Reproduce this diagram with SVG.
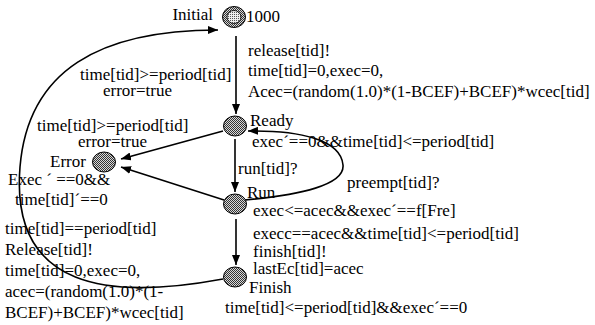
<svg xmlns="http://www.w3.org/2000/svg" width="595" height="325" viewBox="0 0 595 325">
  <defs>
    <style>
      text { font-family: "Liberation Serif", "Times New Roman", serif; font-size: 17px; fill: #000; }
      .edge { fill: none; stroke: #000; stroke-width: 1.6; }
      .loc { fill: url(#dots); stroke: #000; stroke-width: 1; }
    </style>
    <pattern id="dots" width="2" height="2" patternUnits="userSpaceOnUse">
      <rect width="2" height="2" fill="#d8d8d8"/>
      <rect width="1" height="1" fill="#333"/>
      <rect x="1" y="1" width="1" height="1" fill="#333"/>
    </pattern>
    <pattern id="fine" width="2" height="2" patternUnits="userSpaceOnUse">
      <rect width="2" height="2" fill="#eee"/>
      <rect width="1" height="1" fill="#555"/>
    </pattern>
    <marker id="arrow" viewBox="0 0 10 8" refX="10" refY="4" markerWidth="10" markerHeight="8" markerUnits="userSpaceOnUse" orient="auto">
      <path d="M0,0 L10,4 L0,8 z" fill="#000"/>
    </marker>
  </defs>
  <rect width="595" height="325" fill="#fff"/>

  <!-- transitions -->
  <g id="connectors">
    <line class="edge" x1="236" y1="36" x2="236" y2="114" marker-end="url(#arrow)"/>
    <line class="edge" x1="235" y1="139" x2="235" y2="192" marker-end="url(#arrow)"/>
    <line class="edge" x1="236" y1="219" x2="236" y2="265" marker-end="url(#arrow)"/>
    <line class="edge" x1="223" y1="131" x2="121" y2="159" marker-end="url(#arrow)"/>
    <line class="edge" x1="224" y1="200" x2="121" y2="167" marker-end="url(#arrow)"/>
    <path class="edge" d="M245,200 C300,195 345,185 343,165 C341,140 300,130 248,131" marker-end="url(#arrow)"/>
    <path class="edge" d="M223,279 C110,300 10,290 20,167 C28,70 100,30 218,30" marker-end="url(#arrow)"/>
  </g>

  <!-- locations -->
  <g id="initial">
    <ellipse class="loc" cx="234" cy="17" rx="11.5" ry="10.5"/>
    <ellipse cx="234" cy="17" rx="7" ry="6.5" fill="url(#fine)" stroke="#000" stroke-width="0.8"/>
    <text x="213" y="20" text-anchor="end">Initial</text>
    <text x="246" y="22">1000</text>
  </g>
  <g id="ready">
    <ellipse class="loc" cx="235" cy="126" rx="11.5" ry="10"/>
    <text x="250" y="126">Ready</text>
  </g>
  <g id="run">
    <ellipse class="loc" cx="235" cy="204" rx="11.5" ry="10"/>
    <text x="247" y="198">Run</text>
  </g>
  <g id="finish">
    <ellipse class="loc" cx="235" cy="277" rx="11.5" ry="10"/>
    <text x="249" y="293">Finish</text>
  </g>
  <g id="error">
    <ellipse class="loc" cx="104" cy="162" rx="11.5" ry="10"/>
    <text x="50" y="167">Error</text>
  </g>

  <!-- guards, syncs, updates and invariants -->
  <g id="labels">
    <text x="248" y="56">release[tid]!</text>
    <text x="248" y="76">time[tid]=0,exec=0,</text>
    <text x="248" y="97">Acec=(random(1.0)*(1-BCEF)+BCEF)*wcec[tid]</text>

    <text x="80" y="80">time[tid]&gt;=period[tid]</text>
    <text x="103" y="96">error=true</text>

    <text x="252" y="147">exec´==0&amp;&amp;time[tid]&lt;=period[tid]</text>

    <text x="37" y="131">time[tid]&gt;=period[tid]</text>
    <text x="78" y="147">error=true</text>

    <text x="8" y="185">Exec ´ ==0&amp;&amp;</text>
    <text x="15" y="205">time[tid]´==0</text>

    <text x="238" y="174">run[tid]?</text>
    <text x="347" y="188">preempt[tid]?</text>

    <text x="253" y="216">exec&lt;=acec&amp;&amp;exec´==f[Fre]</text>
    <text x="253" y="239">execc==acec&amp;&amp;time[tid]&lt;=period[tid]</text>
    <text x="253" y="257">finish[tid]!</text>
    <text x="253" y="274">lastEc[tid]=acec</text>
    <text x="225" y="313">time[tid]&lt;=period[tid]&amp;&amp;exec´==0</text>

    <text x="5" y="234">time[tid]==period[tid]</text>
    <text x="5" y="255">Release[tid]!</text>
    <text x="5" y="276">time[tid]=0,exec=0,</text>
    <text x="5" y="297">acec=(random(1.0)*(1-</text>
    <text x="5" y="318">BCEF)+BCEF)*wcec[tid]</text>
  </g>
</svg>
